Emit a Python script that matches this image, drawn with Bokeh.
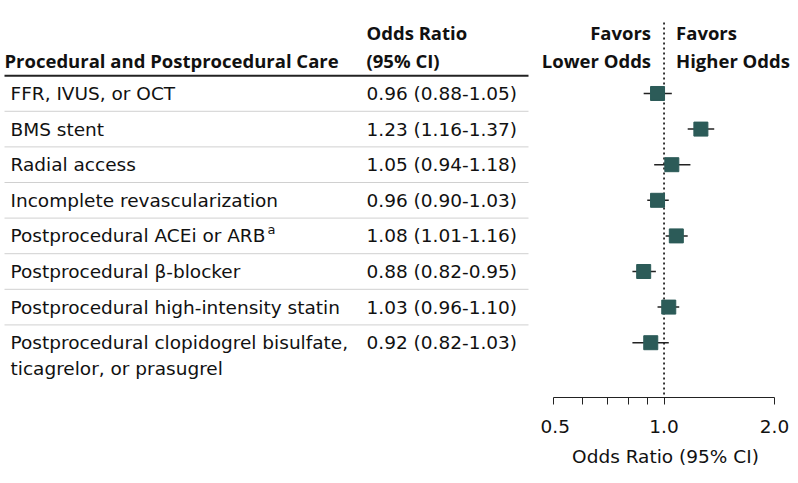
from bokeh.plotting import figure
from bokeh.layouts import row
from bokeh.models import Range1d, FixedTicker, NumeralTickFormatter, ColumnDataSource
from bokeh.core.properties import value
from bokeh.embed import file_html
from bokeh.resources import INLINE

# ---- data ----
labels = [
    "FFR, IVUS, or OCT",
    "BMS stent",
    "Radial access",
    "Incomplete revascularization",
    "Postprocedural ACEi or ARB",
    "Postprocedural \u03b2-blocker",
    "Postprocedural high-intensity statin",
    "Postprocedural clopidogrel bisulfate,\nticagrelor, or prasugrel",
]
footnote_marks = ["", "", "", "", "a", "", "", ""]
odds_ratio = [0.96, 1.23, 1.05, 0.96, 1.08, 0.88, 1.03, 0.92]
ci_low = [0.88, 1.16, 0.94, 0.90, 1.01, 0.82, 0.96, 0.82]
ci_high = [1.05, 1.37, 1.18, 1.03, 1.16, 0.95, 1.10, 1.03]
# point positions as drawn in the figure
or_drawn = [0.96, 1.26, 1.05, 0.96, 1.08, 0.88, 1.03, 0.92]
major_ticks = [0.5, 1.0, 2.0]
minor_ticks = [0.6, 0.7, 0.8, 0.9]

FONT = "DejaVu Sans"
BFONT = "Open Sans"
FS = "18.5px"
TXT = "#111111"
SQ = "#2c5b58"

n = len(labels)
rows = list(range(n))
LW, RW, H = 540, 250, 475
BOTTOM = 78
y_range = Range1d(8.539, -2.612)

# ---- left table ----
left = figure(width=LW, height=H, x_range=Range1d(0, LW), y_range=y_range,
              x_axis_location=None, y_axis_location=None, toolbar_location=None,
              output_backend="svg", min_border_left=0, min_border_right=0,
              min_border_top=0, min_border_bottom=BOTTOM)
left.outline_line_color = None
left.grid.visible = False

line_x, line_y = [], []
for i, lab in enumerate(labels):
    for k, part in enumerate(lab.split("\n")):
        line_x.append(part)
        line_y.append(i + 0.73 * k)
left.text(x=10, y=line_y, text=line_x, text_font=value(FONT), text_font_size=FS,
          text_color=TXT, text_baseline="middle", text_align="left")

ci_text = [f"{o:.2f} ({l:.2f}-{h:.2f})" for o, l, h in zip(odds_ratio, ci_low, ci_high)]
left.text(x=366, y=rows, text=ci_text, text_font=value(FONT), text_font_size=FS,
          text_color=TXT, text_baseline="middle", text_align="left")

fn_idx = [i for i, m in enumerate(footnote_marks) if m]
left.text(x=[267] * len(fn_idx), y=[i - 0.17 for i in fn_idx],
          text=[footnote_marks[i] for i in fn_idx], text_font=value(FONT),
          text_font_size="13px", text_color=TXT, text_baseline="alphabetic")

# headers
left.text(x=[4], y=[-0.927], text=["Procedural and Postprocedural Care"],
          text_font=value(BFONT), text_font_size=FS, text_font_style="bold",
          text_color=TXT, text_baseline="middle")
left.text(x=[366, 366], y=[-1.713, -0.927], text=["Odds Ratio", "(95% CI)"],
          text_font=value(BFONT), text_font_size=FS, text_font_style="bold",
          text_color=TXT, text_baseline="middle")
left.segment(x0=4, x1=528, y0=-0.5, y1=-0.5, line_color="#222222", line_width=2)
sep = [i + 0.5 for i in rows[:-1]]
left.segment(x0=[4] * len(sep), x1=[528] * len(sep), y0=sep, y1=sep,
             line_color="#d0d0d0", line_width=1)

# ---- right forest plot ----
right = figure(width=RW, height=H, x_axis_type="log",
               x_range=Range1d(0.4606, 2.211), y_range=y_range,
               y_axis_location=None, toolbar_location=None, output_backend="svg",
               min_border_left=0, min_border_right=0, min_border_top=0,
               min_border_bottom=BOTTOM)
right.outline_line_color = None
right.grid.visible = False

right.segment(x0=[1.0], x1=[1.0], y0=[-1.994], y1=[8.539], line_color="#222222",
              line_width=1.8, line_dash="2 3")

src = ColumnDataSource(dict(y=rows, x=or_drawn, lo=ci_low, hi=ci_high))
right.segment(x0="lo", x1="hi", y0="y", y1="y", source=src,
              line_color="#222222", line_width=1.5)
right.scatter(x="x", y="y", source=src, marker="square", size=14,
              fill_color=SQ, line_color=SQ)

right.text(x=[1.0, 1.0], y=[-1.713, -0.927], text=["Favors", "Lower Odds"],
           x_offset=-13, text_font=value(BFONT), text_font_size=FS,
           text_font_style="bold", text_color=TXT, text_baseline="middle",
           text_align="right")
right.text(x=[1.0, 1.0], y=[-1.713, -0.927], text=["Favors", "Higher Odds"],
           x_offset=12, text_font=value(BFONT), text_font_size=FS,
           text_font_style="bold", text_color=TXT, text_baseline="middle",
           text_align="left")

ax = right.xaxis[0]
ax.ticker = FixedTicker(ticks=major_ticks, minor_ticks=minor_ticks)
ax.formatter = NumeralTickFormatter(format="0.0")
ax.bounds = (0.5, 2.0)
ax.axis_line_color = "#222222"
ax.major_tick_line_color = "#222222"
ax.minor_tick_line_color = "#222222"
ax.major_tick_in = 0
ax.major_tick_out = 7
ax.minor_tick_in = 0
ax.minor_tick_out = 7
ax.major_label_text_font = FONT
ax.major_label_text_font_size = FS
ax.major_label_text_color = TXT
ax.major_label_standoff = 15
ax.axis_label = "Odds Ratio (95% CI)"
ax.axis_label_text_font = FONT
ax.axis_label_text_font_size = FS
ax.axis_label_text_font_style = "normal"
ax.axis_label_text_color = TXT
ax.axis_label_standoff = 10

layout = row(left, right)
open("out.html", "w").write(file_html(layout, INLINE))
